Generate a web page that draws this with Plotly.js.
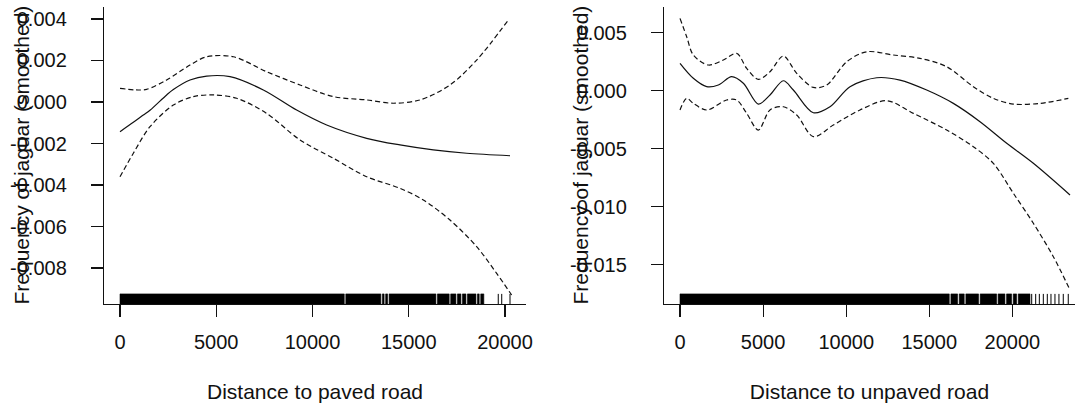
<!DOCTYPE html>
<html>
<head>
<meta charset="utf-8">
<script src="https://cdn.plot.ly/plotly-3.0.1.min.js"></script>
<style>
  html, body { margin: 0; padding: 0; background: #ffffff; }
  #chart { width: 1075px; height: 407px; }
</style>
</head>
<body>
<div id="chart"></div>
<script>
// Smoothed GAM terms for jaguar frequency against road distance (fit, upper and lower bands)

// Distance to paved road
const pavedX     = [0, 693, 1212, 1558, 2424, 2771, 3636, 4502, 5714, 7446, 9177, 10736, 12814, 14545, 16277, 18009, 20260];
const pavedFit   = [-0.00143, -0.00098, -0.00063, -0.00040, 0.00034, 0.00060, 0.00106, 0.00125, 0.00122, 0.00058, -0.00039, -0.00111, -0.00175, -0.00207, -0.00231, -0.00247, -0.00259];
const pavedUpX   = [0, 866, 1385, 2424, 3636, 4502, 5887, 7619, 9351, 11082, 12814, 14199, 15584, 17143, 18528, 20173];
const pavedUp    = [0.00066, 0.00058, 0.00061, 0.00106, 0.00178, 0.00218, 0.00218, 0.00146, 0.00082, 0.00026, 0.00010, -0.00006, 0.00010, 0.00082, 0.00202, 0.00395];
const pavedLoX   = [0, 693, 1558, 2771, 3810, 4848, 6061, 7619, 9351, 11082, 12814, 14545, 15757, 17143, 18528, 19567, 20346];
const pavedLo    = [-0.00360, -0.00247, -0.00119, -0.00015, 0.00026, 0.00034, 0.00018, -0.00055, -0.00183, -0.00271, -0.00360, -0.00416, -0.00472, -0.00569, -0.00697, -0.00826, -0.00930];
// observed distances: dense runs and isolated values
const pavedRugRuns  = [[0, 11650], [11730, 13550], [13630, 13720], [13800, 13900], [13980, 16410], [16490, 17100],
                       [17180, 17450], [17530, 17710], [17790, 17970], [18050, 18490], [18570, 18660], [18740, 18900]];
const pavedRugTicks = [19650, 19830, 20260];

// Distance to unpaved road
const unpavedX     = [0, 802, 1605, 2307, 3109, 3811, 4714, 5415, 6218, 6819, 8021, 9025, 10229, 11834, 13237, 14843, 16446, 18051, 19657, 21260, 23466];
const unpavedFit   = [0.00236, 0.00107, 0.00035, 0.00049, 0.00121, 0.00064, -0.00115, -0.00037, 0.00086, 0.00006, -0.00190, -0.00138, 0.00035, 0.00112, 0.00092, 0.00006, -0.00109, -0.00267, -0.00453, -0.00626, -0.00899];
const unpavedUpX   = [0, 401, 802, 1705, 2607, 3410, 4013, 4714, 5415, 6218, 7022, 8021, 8825, 10028, 11231, 12835, 14440, 16045, 17649, 18853, 20056, 21661, 23366];
const unpavedUp    = [0.00624, 0.00466, 0.00308, 0.00222, 0.00265, 0.00322, 0.00193, 0.00098, 0.00164, 0.00299, 0.00150, 0.00029, 0.00049, 0.00250, 0.00336, 0.00308, 0.00279, 0.00207, 0.00035, -0.00066, -0.00115, -0.00109, -0.00066];
const unpavedLoX   = [0, 401, 802, 1605, 2808, 3410, 4013, 4714, 5415, 6218, 7022, 8021, 9225, 10830, 12434, 14038, 16045, 17649, 18853, 20056, 21260, 22463, 23466];
const unpavedLo    = [-0.00166, -0.00066, -0.00109, -0.00166, -0.00080, -0.00080, -0.00195, -0.00339, -0.00166, -0.00138, -0.00209, -0.00396, -0.00296, -0.00166, -0.00086, -0.00195, -0.00339, -0.00483, -0.00626, -0.00884, -0.01143, -0.01431, -0.01718];
const unpavedRugRuns  = [[0, 16200], [16300, 16700], [16800, 17100], [17200, 17960], [18060, 19050], [19140, 19550],
                         [19650, 19950], [20050, 20250], [20350, 21058]];
const unpavedRugTicks = [21160, 21400, 21620, 21860, 22100, 22320, 22560, 22800, 23060, 23360];

// axis ticks
const pavedYTicks   = [0.004, 0.002, 0.000, -0.002, -0.004, -0.006, -0.008];
const pavedYLabels  = ["0.004", "0.002", "0.000", "-0.002", "-0.004", "-0.006", "-0.008"];
const unpavedYTicks  = [0.005, 0.000, -0.005, -0.010, -0.015];
const unpavedYLabels = ["0.005", "0.000", "-0.005", "-0.010", "-0.015"];
const xTicksPaved    = [0, 5000, 10000, 15000, 20000];
const xTicksUnpaved  = [0, 5000, 10000, 15000, 20000];

const W = 1075, H = 407;
const INK = '#111111';
const FONT = 'Liberation Sans, Arial, sans-serif';
const RUG_H = 0.034; // rug height as a fraction of the panel

function curve(x, y, xa, ya, dashed) {
  return {
    x: x, y: y, xaxis: xa, yaxis: ya, type: 'scatter', mode: 'lines',
    line: { color: INK, width: 1.2, shape: 'spline', smoothing: 0.9, dash: dashed ? '5px,3px' : 'solid' },
    hoverinfo: 'skip', showlegend: false
  };
}

function rugRuns(runs, xa, ya) {
  const x = [], y = [];
  runs.forEach(r => {
    x.push(r[0], r[1], r[1], r[0], r[0], null);
    y.push(0, 0, RUG_H, RUG_H, 0, null);
  });
  return { x: x, y: y, xaxis: xa, yaxis: ya, type: 'scatter', mode: 'lines', fill: 'toself',
           fillcolor: '#000000', line: { color: '#000000', width: 0.6 }, hoverinfo: 'skip', showlegend: false };
}

function rugTicks(vals, xa, ya) {
  const x = [], y = [];
  vals.forEach(v => { x.push(v, v, null); y.push(0, RUG_H, null); });
  return { x: x, y: y, xaxis: xa, yaxis: ya, type: 'scatter', mode: 'lines',
           line: { color: '#000000', width: 1 }, hoverinfo: 'skip', showlegend: false };
}

const traces = [
  curve(pavedX, pavedFit, 'x', 'y', false),
  curve(pavedUpX, pavedUp, 'x', 'y', true),
  curve(pavedLoX, pavedLo, 'x', 'y', true),
  rugRuns(pavedRugRuns, 'x', 'y3'),
  rugTicks(pavedRugTicks, 'x', 'y3'),
  curve(unpavedX, unpavedFit, 'x2', 'y2', false),
  curve(unpavedUpX, unpavedUp, 'x2', 'y2', true),
  curve(unpavedLoX, unpavedLo, 'x2', 'y2', true),
  rugRuns(unpavedRugRuns, 'x2', 'y4'),
  rugTicks(unpavedRugTicks, 'x2', 'y4')
];

// panel boxes in pixels
const yTop = 7, yBot = 304;
const yDomain = [(H - yBot) / H, (H - yTop) / H];
const leftDom = [104 / W, 526 / W];
const rightDom = [664 / W, 1];

const tickFont = { family: FONT, size: 20, color: INK };
const titleFont = { family: FONT, size: 21, color: INK };

function xAxis(dom, range, vals, anchor, title) {
  return {
    domain: dom, range: range, anchor: anchor,
    tickmode: 'array', tickvals: vals, ticktext: vals.map(String),
    ticks: 'outside', ticklen: 12, tickwidth: 1.2, tickcolor: INK,
    showline: true, linecolor: INK, linewidth: 1.2,
    showgrid: false, zeroline: false, tickfont: tickFont, ticklabelstandoff: 8,
    title: { text: title, font: titleFont, standoff: 32 },
    automargin: false, fixedrange: true
  };
}

function yAxis(range, vals, labels, anchor) {
  return {
    domain: yDomain, range: range, anchor: anchor,
    tickmode: 'array', tickvals: vals, ticktext: labels,
    ticks: 'outside', ticklen: 12, tickwidth: 1.2, tickcolor: INK,
    showline: true, linecolor: INK, linewidth: 1.2,
    showgrid: false, zeroline: false, tickfont: tickFont, ticklabelstandoff: 20,
    automargin: false, fixedrange: true
  };
}

function rugAxis(anchor, overlay) {
  return { domain: yDomain, range: [0, 1], anchor: anchor, overlaying: overlay,
           visible: false, showgrid: false, zeroline: false, fixedrange: true };
}

const yTitleText = 'Frequency of jaguar (smoothed)';
const yMid = (H - (yTop + yBot) / 2) / H;

const layout = {
  width: W, height: H,
  margin: { l: 0, r: 0, t: 0, b: 0, pad: 0 },
  paper_bgcolor: '#ffffff', plot_bgcolor: '#ffffff',
  showlegend: false,
  font: { family: FONT, color: INK },
  xaxis: xAxis(leftDom, [-831, 21091], xTicksPaved, 'y', 'Distance to paved road'),
  yaxis: yAxis([-0.009735, 0.004578], pavedYTicks, pavedYLabels, 'x'),
  xaxis2: xAxis(rightDom, [-963, 23766], xTicksUnpaved, 'y2', 'Distance to unpaved road'),
  yaxis2: yAxis([-0.01839, 0.00722], unpavedYTicks, unpavedYLabels, 'x2'),
  yaxis3: rugAxis('x', 'y'),
  yaxis4: rugAxis('x2', 'y2'),
  annotations: [
    { text: yTitleText, xref: 'paper', yref: 'paper', x: 21 / W, y: yMid, textangle: -90,
      showarrow: false, xanchor: 'center', yanchor: 'middle', font: titleFont },
    { text: yTitleText, xref: 'paper', yref: 'paper', x: 580 / W, y: yMid, textangle: -90,
      showarrow: false, xanchor: 'center', yanchor: 'middle', font: titleFont }
  ]
};

Plotly.newPlot('chart', traces, layout, { staticPlot: true, displayModeBar: false });
</script>
</body>
</html>
